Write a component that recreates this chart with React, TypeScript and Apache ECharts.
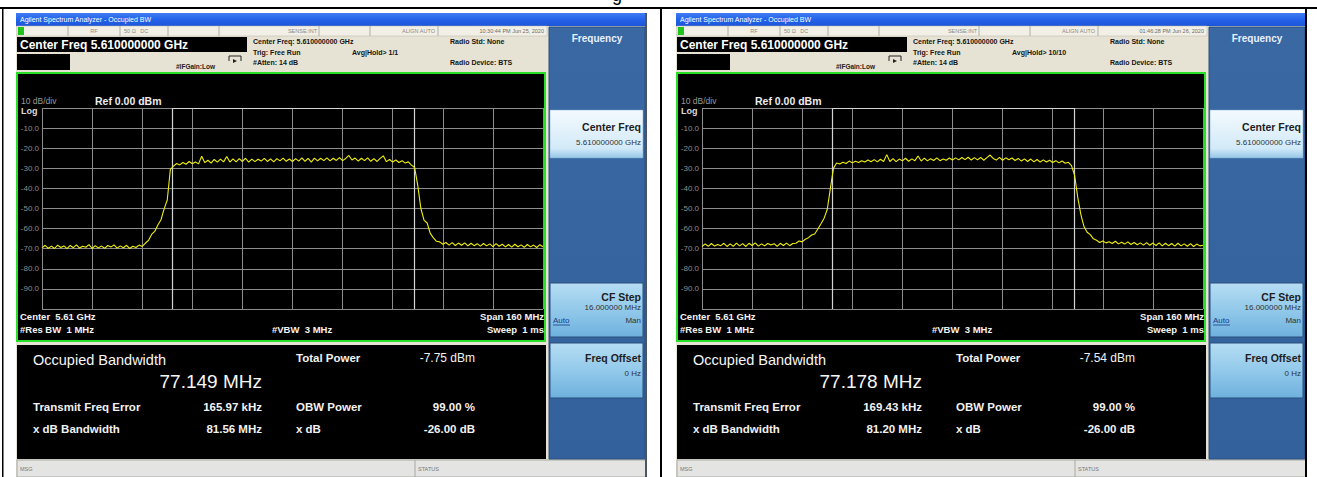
import React, { useEffect, useRef } from "react";
import * as echarts from "echarts";

// ---------- data ----------
const freqStartMHz = -80;
const freqStepMHz = 1;
const spanMinMHz = -80;
const spanMaxMHz = 80;
const yMin = -100;
const yMax = 0;

// Left screen trace (dBm), f = -80 .. +80 MHz, 1 MHz steps
const leftTrace = [
  -69.6, -68.3, -69.8, -68.7, -69.9, -68.2, -69.4, -68.6, -70.0, -68.4,
  -69.5, -68.1, -69.7, -68.8, -69.3, -68.0, -69.9, -68.5, -69.6, -68.7,
  -69.8, -68.4, -69.2, -68.1, -69.7, -68.6, -69.5, -68.3, -69.9, -68.8,
  -69.4, -68.2, -68.9, -67.3, -65.9, -62.9, -61.4, -58.2, -55.6, -50.2,
  -45.8, -30.5, -28.9, -27.6, -28.3, -27.1, -28.0, -26.6, -27.7, -26.9,
  -27.8, -24.0, -27.2, -26.0, -27.4, -25.6, -26.9, -25.4, -26.8, -24.1,
  -26.9, -25.3, -26.8, -25.2, -26.6, -25.0, -26.9, -25.4, -26.7, -25.5,
  -26.4, -25.1, -26.6, -25.3, -26.8, -25.2, -26.3, -24.9, -26.5, -25.4,
  -26.6, -25.2, -26.4, -24.8, -26.5, -25.1, -26.9, -24.9, -26.3, -25.0,
  -26.2, -24.8, -26.3, -25.0, -26.1, -24.7, -26.2, -25.1, -23.6, -25.9,
  -24.9, -26.4, -25.0, -26.2, -24.8, -26.5, -25.2, -26.6, -25.1, -23.8,
  -26.7, -25.6, -26.9, -25.9, -27.1, -26.2, -27.4, -26.8, -28.4, -29.6,
  -38.5, -50.0, -55.8, -57.2, -62.4, -64.6, -66.3, -66.6, -67.8, -66.9,
  -68.2, -67.0, -68.4, -67.2, -68.3, -67.1, -68.6, -67.3, -68.5, -67.5,
  -68.7, -67.4, -68.6, -67.6, -69.0, -67.5, -68.8, -67.8, -69.1, -67.9,
  -69.2, -67.8, -69.0, -68.1, -69.3, -67.9, -69.1, -68.2, -69.4, -68.0,
  -69.0,
];

// Right screen trace (dBm), f = -80 .. +80 MHz, 1 MHz steps
const rightTrace = [
  -68.9, -67.6, -68.8, -67.4, -68.7, -67.9, -68.5, -67.3, -68.9, -67.6,
  -68.8, -67.2, -68.6, -67.5, -68.9, -67.3, -68.4, -67.1, -68.7, -67.6,
  -68.6, -67.4, -68.2, -67.5, -68.8, -67.3, -68.4, -67.2, -68.5, -67.4,
  -67.3, -66.2, -66.6, -65.3, -64.5, -63.2, -62.7, -60.2, -57.6, -54.8,
  -50.5, -40.0, -29.9, -27.4, -27.9, -27.0, -27.6, -26.4, -27.3, -26.5,
  -27.1, -26.2, -26.9, -25.9, -26.7, -25.7, -26.8, -25.5, -26.6, -23.2,
  -26.6, -25.2, -26.7, -25.4, -26.3, -25.0, -26.5, -25.3, -26.2, -23.9,
  -26.4, -24.9, -26.3, -25.2, -26.1, -24.8, -26.2, -25.4, -26.0, -24.9,
  -25.9, -24.8, -25.8, -24.6, -25.7, -24.5, -25.9, -24.7, -25.8, -24.6,
  -26.0, -24.7, -23.4, -25.1, -25.9, -24.6, -26.0, -24.8, -25.7, -24.9,
  -26.1, -25.1, -26.4, -25.3, -26.6, -25.4, -26.8, -25.6, -26.9, -25.8,
  -26.9, -26.0, -27.1, -26.2, -27.3, -26.4, -27.5, -27.0, -28.7, -33.5,
  -44.5, -53.0, -59.0, -61.8, -63.0, -65.1, -65.8, -66.9, -66.2, -67.1,
  -66.5, -67.4, -66.3, -67.6, -66.8, -67.7, -66.6, -67.9, -66.9, -68.0,
  -67.1, -68.2, -67.0, -68.3, -67.2, -68.4, -67.1, -68.6, -67.3, -68.5,
  -67.4, -68.7, -67.3, -68.6, -67.6, -68.8, -67.5, -68.9, -67.7, -68.6,
  -68.3,
];

// Occupied-bandwidth edges (MHz from centre)
const leftObwEdges = [-38.41, 38.74];
const rightObwEdges = [-38.42, 38.76];

// Screen texts
const screenDates = ["10:30:44 PM Jun 25, 2020", "01:46:28 PM Jun 26, 2020"];
const screenAvgHold = ["Avg|Hold> 1/1", "Avg|Hold> 10/10"];
const screenTotalPower = ["-7.75 dBm", "-7.54 dBm"];
const screenObw = ["77.149 MHz", "77.178 MHz"];
const screenFreqError = ["165.97 kHz", "169.43 kHz"];
const screenXdbBw = ["81.56 MHz", "81.20 MHz"];

// ---------- helpers ----------
const FONT = '"Liberation Sans", Arial, sans-serif';

function txt(x: number, y: number, text: string, size: number, fill: string, weight = "normal", align = "left", extra: any = {}) {
  return {
    type: "text",
    x,
    y,
    silent: true,
    z: 10,
    style: { text, fontSize: size, fontFamily: FONT, fontWeight: weight, fill, align, verticalAlign: "middle", ...extra },
  };
}
function rect(x: number, y: number, w: number, h: number, fill: any, extra: any = {}, z = 1) {
  return { type: "rect", silent: true, z, shape: { x, y, width: w, height: h }, style: { fill, ...extra } };
}
function line(x1: number, y1: number, x2: number, y2: number, stroke: string, w = 1, z = 2) {
  return { type: "line", silent: true, z, shape: { x1, y1, x2, y2 }, style: { stroke, lineWidth: w } };
}
function vgrad(stops: [number, string][]) {
  return new echarts.graphic.LinearGradient(0, 0, 0, 1, stops.map(([o, c]) => ({ offset: o, color: c })));
}

function panel(i: number) {
  const o = i * 660;
  const els: any[] = [];
  // window background
  els.push(rect(16 + o, 13, 631, 464, "#e6e3d4", {}, 0));
  // title bar
  els.push(rect(16 + o, 13, 631, 13, vgrad([[0, "#3f7cf4"], [0.5, "#2463ea"], [1, "#1c55d8"]])));
  els.push(txt(20 + o, 19.5, "Agilent Spectrum Analyzer - Occupied BW", 7, "#ffffff"));
  // status row
  els.push(rect(17 + o, 26, 530, 10, "#f2f0e6", { stroke: "#b4b2a8", lineWidth: 0.5 }));
  els.push(rect(18 + o, 27, 6, 8, "#1fc41f"));
  [68, 120, 168, 219, 319, 370, 438].forEach((x) => els.push(line(x + o, 26, x + o, 36, "#b0aea4", 1, 3)));
  els.push(txt(94 + o, 31, "RF", 5.5, "#8a8a8a", "normal", "center"));
  els.push(txt(124 + o, 31, "50 Ω   DC", 5.5, "#8a8a8a"));
  els.push(txt(317 + o, 31, "SENSE:INT", 5.5, "#8a8a8a", "normal", "right"));
  els.push(txt(435 + o, 31, "ALIGN AUTO", 5.5, "#8a8a8a", "normal", "right"));
  els.push(txt(544 + o, 31, screenDates[i], 5.5, "#6a6a6a", "normal", "right"));
  // header
  els.push(rect(17 + o, 37, 230, 15, "#000000"));
  els.push(txt(20 + o, 44.5, "Center Freq 5.610000000 GHz", 12, "#ffffff", "bold"));
  els.push(rect(17 + o, 54, 53, 16, "#000000"));
  els.push({
    type: "polyline", silent: true, z: 3,
    shape: { points: [[229 + o, 61], [229 + o, 56], [241 + o, 56], [241 + o, 61]] },
    style: { stroke: "#222", lineWidth: 1, fill: null },
  });
  els.push({
    type: "polygon", silent: true, z: 3,
    shape: { points: [[233 + o, 59], [237 + o, 61], [233 + o, 63]] },
    style: { fill: "#222" },
  });
  els.push(txt(176 + o, 66, "#IFGain:Low", 6.5, "#222222", "bold"));
  els.push(txt(253 + o, 41.5, "Center Freq: 5.610000000 GHz", 7, "#151515", "bold"));
  els.push(txt(253 + o, 52, "Trig: Free Run", 7, "#151515", "bold"));
  els.push(txt(253 + o, 62.5, "#Atten: 14 dB", 7, "#151515", "bold"));
  els.push(txt(352 + o, 52, screenAvgHold[i], 7, "#151515", "bold"));
  els.push(txt(450 + o, 41.5, "Radio Std: None", 7, "#151515", "bold"));
  els.push(txt(450 + o, 62.5, "Radio Device: BTS", 7, "#151515", "bold"));
  // graph area
  els.push(rect(17 + o, 73, 528, 268, "#000000", { stroke: "#27e027", lineWidth: 2 }));
  els.push(txt(21 + o, 101, "10 dB/div", 8.5, "#9a9a9a"));
  els.push(txt(95 + o, 100.5, "Ref 0.00 dBm", 10.5, "#ececec", "bold"));
  els.push(txt(21 + o, 110.5, "Log", 9, "#dcdcdc", "bold"));
  els.push(txt(20 + o, 316.5, "Center  5.61 GHz", 9.5, "#f4f4f4", "bold"));
  els.push(txt(544 + o, 316.5, "Span 160 MHz", 9.5, "#f4f4f4", "bold", "right"));
  els.push(txt(20 + o, 329.5, "#Res BW  1 MHz", 9.5, "#f4f4f4", "bold"));
  els.push(txt(272 + o, 329.5, "#VBW  3 MHz", 9.5, "#f4f4f4", "bold"));
  els.push(txt(544 + o, 329.5, "Sweep  1 ms", 9.5, "#f4f4f4", "bold", "right"));
  // results
  els.push(rect(17 + o, 345, 529, 114, "#000000"));
  els.push(txt(33 + o, 359.5, "Occupied Bandwidth", 14.5, "#f6f6f6"));
  els.push(txt(262 + o, 381, screenObw[i], 19, "#f6f6f6", "normal", "right"));
  els.push(txt(296 + o, 357.5, "Total Power", 11.5, "#f2f2f2", "bold"));
  els.push(txt(475 + o, 357.5, screenTotalPower[i], 12, "#f2f2f2", "normal", "right"));
  els.push(txt(33 + o, 406.5, "Transmit Freq Error", 11.5, "#f2f2f2", "bold"));
  els.push(txt(262 + o, 406.5, screenFreqError[i], 11.5, "#f2f2f2", "bold", "right"));
  els.push(txt(296 + o, 406.5, "OBW Power", 11.5, "#f2f2f2", "bold"));
  els.push(txt(475 + o, 406.5, "99.00 %", 11.5, "#f2f2f2", "bold", "right"));
  els.push(txt(33 + o, 428.5, "x dB Bandwidth", 11.5, "#f2f2f2", "bold"));
  els.push(txt(262 + o, 428.5, screenXdbBw[i], 11.5, "#f2f2f2", "bold", "right"));
  els.push(txt(296 + o, 428.5, "x dB", 11.5, "#f2f2f2", "bold"));
  els.push(txt(475 + o, 428.5, "-26.00 dB", 11.5, "#f2f2f2", "bold", "right"));
  // bottom status bar
  els.push(rect(17 + o, 460, 629, 17, "#e4e4e2", { stroke: "#a8a8a4", lineWidth: 1 }));
  els.push(line(415 + o, 460, 415 + o, 477, "#a8a8a4", 1, 3));
  els.push(txt(20 + o, 469, "MSG", 5.5, "#777777"));
  els.push(txt(418 + o, 469, "STATUS", 5.5, "#777777"));
  // softkey panel
  els.push(rect(549 + o, 27, 96, 432, vgrad([[0, "#3a68a2"], [1, "#33619c"]]), { stroke: "#2a4f80", lineWidth: 1 }));
  els.push(rect(645 + o, 13, 2, 464, "#4a5560", {}, 2));
  els.push(txt(597 + o, 38.5, "Frequency", 10, "#e8f0ff", "bold", "center"));
  const btnLight = vgrad([[0, "#f4fafe"], [0.8, "#d2eaf8"], [1, "#95c7e8"]]);
  els.push(rect(550 + o, 110, 93, 48, btnLight, { stroke: "#7aa6cc", lineWidth: 0.5 }));
  els.push(txt(641 + o, 126.5, "Center Freq", 10.5, "#1e1e1e", "bold", "right"));
  els.push(txt(641 + o, 142.5, "5.610000000 GHz", 8, "#333333", "normal", "right"));
  const btnMid = vgrad([[0, "#b6ddf3"], [0.5, "#92c9ea"], [1, "#6eb1de"]]);
  els.push(rect(550 + o, 283, 93, 54, btnMid, { stroke: "#2a4f80", lineWidth: 1 }));
  els.push(txt(641 + o, 296.5, "CF Step", 10.5, "#1e1e1e", "bold", "right"));
  els.push(txt(641 + o, 307.5, "16.000000 MHz", 8, "#333333", "normal", "right"));
  els.push(txt(553 + o, 320, "Auto", 8, "#1a3a8a"));
  els.push(line(553 + o, 325, 570 + o, 325, "#1a3a8a", 0.8, 11));
  els.push(txt(641 + o, 320, "Man", 8, "#333333", "normal", "right"));
  els.push(rect(550 + o, 343, 93, 55, btnMid, { stroke: "#2a4f80", lineWidth: 1 }));
  els.push(txt(641 + o, 358, "Freq Offset", 10.5, "#1e1e1e", "bold", "right"));
  els.push(txt(641 + o, 373.5, "0 Hz", 8, "#333333", "normal", "right"));
  return els;
}

function documentFrame() {
  return [
    rect(0, 7, 1317, 2, "#000000", {}, 20),
    rect(2, 7, 1.5, 470, "#000000", {}, 20),
    rect(660, 7, 2, 470, "#000000", {}, 20),
    rect(1305, 7, 2, 470, "#000000", {}, 20),
    { type: "text", x: 612, y: -14, silent: true, z: 20, style: { text: "g", fontSize: 18, fontFamily: FONT, fill: "#000", verticalAlign: "top" } },
  ];
}

function buildSeries(vals: number[], edges: number[], idx: number) {
  const data = vals.map((v, k) => [freqStartMHz + k * freqStepMHz, v]);
  return {
    type: "line",
    xAxisIndex: idx,
    yAxisIndex: idx,
    data,
    showSymbol: false,
    z: 6,
    lineStyle: { color: "#f0ef10", width: 1.1 },
    silent: true,
    markLine: {
      silent: true,
      symbol: "none",
      label: { show: false },
      lineStyle: { color: "#d4d4d4", width: 1.2, type: "solid" },
      data: [
        { xAxis: edges[0] },
        { xAxis: edges[1] },
        [{ coord: [edges[0], yMax] }, { coord: [edges[1], yMax] }],
      ],
    },
  };
}

function axisPair(idx: number) {
  const x = {
    type: "value",
    gridIndex: idx,
    min: spanMinMHz,
    max: spanMaxMHz,
    interval: 16,
    z: 4,
    axisLine: { show: false },
    axisTick: { show: false },
    axisLabel: { show: false },
    splitLine: { show: true, lineStyle: { color: "#8c8c8c", width: 1 } },
  };
  const y = {
    type: "value",
    gridIndex: idx,
    min: yMin,
    max: yMax,
    interval: 10,
    z: 4,
    axisLine: { show: false },
    axisTick: { show: false },
    splitLine: { show: true, lineStyle: { color: "#8c8c8c", width: 1 } },
    axisLabel: {
      color: "#8e8e8e",
      fontSize: 8,
      fontFamily: FONT,
      margin: 3,
      formatter: (v: number) => (v === yMax || v === yMin ? "" : v.toFixed(1)),
    },
  };
  return { x, y };
}

export default function App() {
  const ref = useRef<HTMLDivElement>(null);
  useEffect(() => {
    if (!ref.current) return;
    const chart = echarts.init(ref.current, undefined, { renderer: "svg" });
    const a0 = axisPair(0);
    const a1 = axisPair(1);
    chart.setOption({
      animation: false,
      backgroundColor: "#ffffff",
      grid: [
        { left: 42, top: 108, width: 501, height: 201 },
        { left: 702, top: 108, width: 501, height: 201 },
      ],
      xAxis: [a0.x, a1.x],
      yAxis: [a0.y, a1.y],
      series: [buildSeries(leftTrace, leftObwEdges, 0), buildSeries(rightTrace, rightObwEdges, 1)],
      graphic: { elements: [...panel(0), ...panel(1), ...documentFrame()] },
    });
    return () => chart.dispose();
  }, []);
  return <div ref={ref} style={{ position: "absolute", left: 0, top: 0, width: 1317, height: 477 }} />;
}
